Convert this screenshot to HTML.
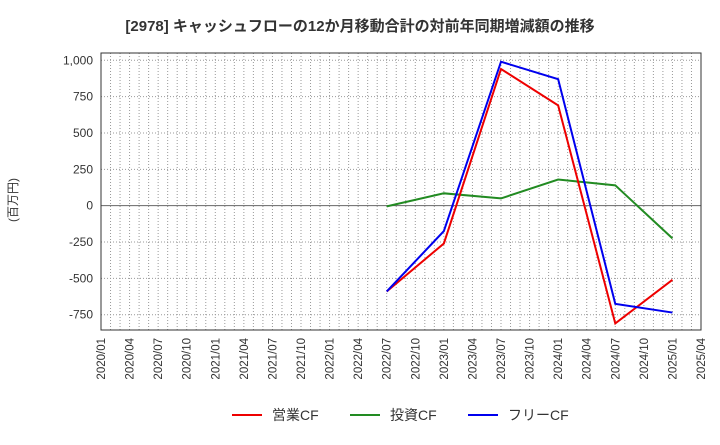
<!DOCTYPE html>
<html><head><meta charset="utf-8"><style>
body{margin:0;background:#fff;font-family:"Liberation Sans","Noto Sans CJK JP",sans-serif}
</style></head><body>
<svg id="c" width="720" height="440" xmlns="http://www.w3.org/2000/svg">
<text x="360" y="31" text-anchor="middle" font-size="15" font-weight="bold" fill="#333" font-family="Liberation Sans, Noto Sans CJK JP, sans-serif">[2978]  キャッシュフローの12か月移動合計の対前年同期増減額の推移</text>
<text transform="translate(17,200) rotate(-90)" text-anchor="middle" font-size="12" fill="#333" font-family="Liberation Sans, Noto Sans CJK JP, sans-serif">(百万円)</text>
<g id="grid"></g><g id="axes"></g><g id="series"></g><g id="legend"></g>
</svg>
<script>
const xLabels=["2020/01","2020/04","2020/07","2020/10","2021/01","2021/04","2021/07","2021/10","2022/01","2022/04","2022/07","2022/10","2023/01","2023/04","2023/07","2023/10","2024/01","2024/04","2024/07","2024/10","2025/01","2025/04"];
const yTicks=[1000,750,500,250,0,-250,-500,-750];
const yTickLabels=["1,000","750","500","250","0","-250","-500","-750"];
const pointMonths=[30,36,42,48,54,60];
const opCF=[-590,-260,940,690,-810,-510];
const invCF=[-5,85,50,180,140,-225];
const freeCF=[-590,-175,990,870,-675,-735];
const NS='http://www.w3.org/2000/svg';
const L=101,R=701,T=53,B=330,yMin=-855,yMax=1050,mMax=63;
const xs=m=>L+(R-L)*m/mMax;
const ys=v=>B-(B-T)*(v-yMin)/(yMax-yMin);
function mk(tag,attrs,parent,text){const e=document.createElementNS(NS,tag);for(const k in attrs)e.setAttribute(k,attrs[k]);if(text!==undefined)e.textContent=text;document.getElementById(parent).appendChild(e);return e;}
for(let m=1;m<mMax;m++){const e=mk('line',{x1:xs(m),x2:xs(m),y1:T,y2:B,stroke:'#999','stroke-dasharray':'1,2','stroke-width':1},'grid');

}
yTicks.forEach((v,i)=>{const e=mk('line',{x1:L,x2:R,y1:ys(v),y2:ys(v),stroke:v===0?'#666':'#999','stroke-dasharray':v===0?'':'1,2','stroke-width':1},'grid');


const t=mk('text',{x:L-8,y:ys(v)+4,'text-anchor':'end','font-size':12,fill:'#333'},'axes',yTickLabels[i]);

});
const fr=mk('rect',{x:L,y:T,width:R-L,height:B-T,fill:'none',stroke:'#333','stroke-width':1},'axes');


xLabels.forEach((s,i)=>{const x=xs(i*3);const t=mk('text',{transform:`translate(${x+4},${B+8}) rotate(-90)`,'text-anchor':'end','font-size':11.5,fill:'#333'},'axes',s);

});
function series(vals,color,name){const pts=vals.map((v,i)=>xs(pointMonths[i])+','+ys(v)).join(' ');
const p=mk('polyline',{points:pts,fill:'none',stroke:color,'stroke-width':2},'series');

}
series(invCF,'#228B22','investing-cf-line');
series(opCF,'#ee0000','operating-cf-line');
series(freeCF,'#0000ee','free-cf-line');
const leg=[["営業CF",'#ee0000',232],["投資CF",'#228B22',350],["フリーCF",'#0000ee',468]];
leg.forEach(([s,c,x])=>{const l=mk('line',{x1:x,x2:x+30,y1:415,y2:415,stroke:c,'stroke-width':2},'legend');


const t=mk('text',{x:x+40,y:420,'font-size':14,fill:'#333'},'legend',s);

});
</script>
</body></html>
